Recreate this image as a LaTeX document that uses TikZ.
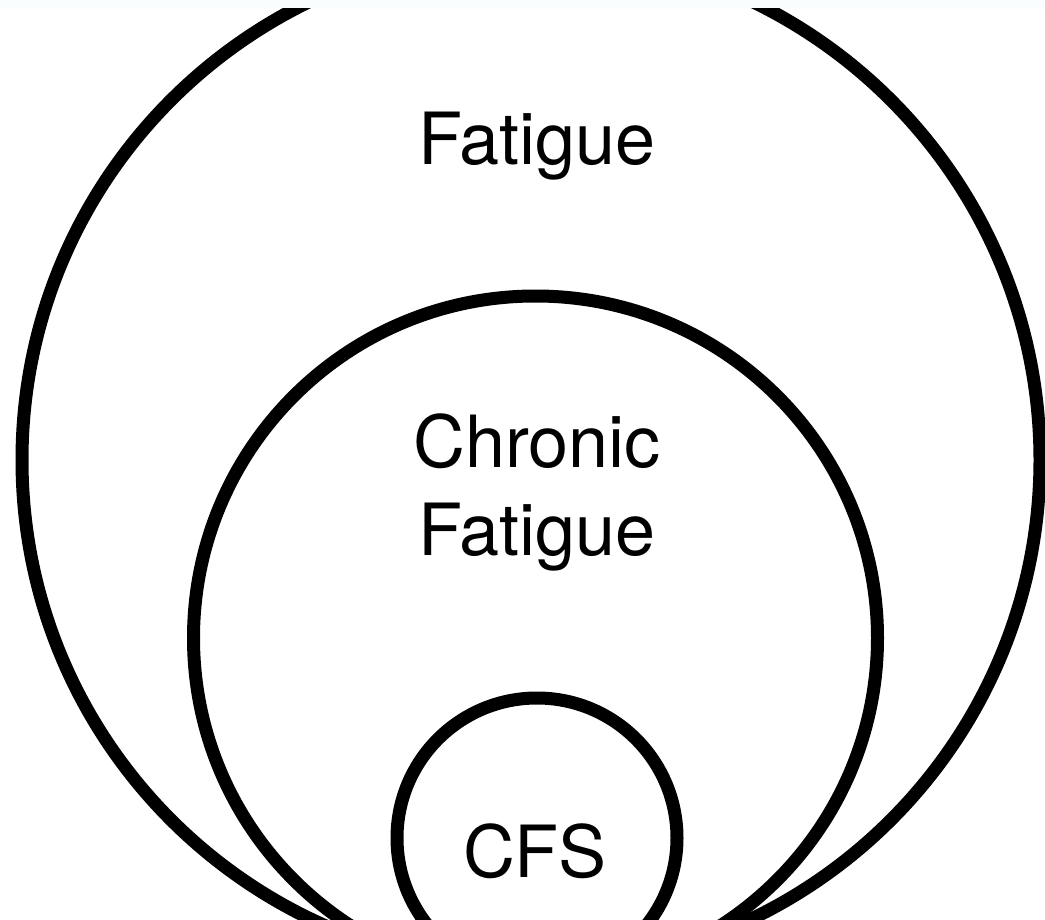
\documentclass[tikz,border=0pt]{standalone}
\usepackage{fontspec}
\setmainfont{TeX Gyre Heros}
\begin{document}
\begin{tikzpicture}[x=0.5pt,y=-0.5pt,
  ring/.style={draw=black,line width=6.5pt},
  lbl/.style={font=\fontsize{36}{44}\selectfont,inner sep=0pt,align=center}]
\useasboundingbox (0,0) rectangle (1045,920);
\fill[white] (0,0) rectangle (1045,920);
\fill[black!4!cyan!2!white] (0,0) rectangle (1045,9);
\begin{scope}
\clip (0,9) rectangle (1045,920);
\draw[ring] (531,460) circle[radius=509];
\draw[ring] (535.5,638) circle[radius=342];
\draw[ring] (537,838) circle[radius=140];
\end{scope}
\node[lbl,anchor=base] (fat) at (537,165) {Fatigue};
\node[lbl,anchor=base] (chr) at (537,467) {Chronic};
\node[lbl,anchor=base] (chf) at (537,555) {Fatigue};
\node[lbl,anchor=base] (cfs) at (535,877) {CFS};
\end{tikzpicture}
\end{document}
